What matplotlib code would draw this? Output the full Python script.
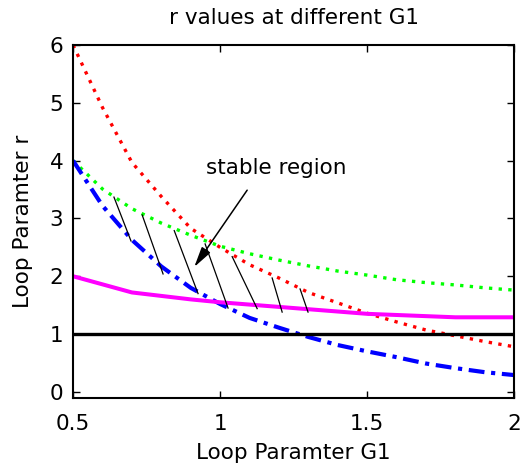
import matplotlib
matplotlib.use("Agg")
import matplotlib.pyplot as plt
import numpy as np

# loop parameter G1 and the r curves
G1 = [0.5, 0.6, 0.7, 0.8, 0.9, 1.0, 1.1, 1.2, 1.3, 1.4, 1.5, 1.6, 1.7, 1.8, 1.9, 2.0]
r_red = [6.0, 4.92, 3.97, 3.38, 2.83, 2.5, 2.2, 1.97, 1.72, 1.54, 1.36, 1.21, 1.07, 0.97, 0.87, 0.78]
r_green = [4.0, 3.51, 3.17, 2.92, 2.71, 2.52, 2.39, 2.28, 2.18, 2.09, 2.02, 1.94, 1.89, 1.85, 1.8, 1.76]
r_blue = [4.0, 3.22, 2.63, 2.17, 1.8, 1.52, 1.28, 1.11, 0.95, 0.81, 0.70, 0.60, 0.49, 0.41, 0.34, 0.29]
r_magenta = [2.0, 1.86, 1.72, 1.66, 1.6, 1.55, 1.51, 1.47, 1.43, 1.39, 1.35, 1.33, 1.31, 1.29, 1.29, 1.29]
r_limit = 1.0

# hatch strokes marking the stable region
hatch_x0 = [0.639, 0.735, 0.844, 0.949, 1.041, 1.177, 1.272]
hatch_y0 = [3.37, 3.06, 2.79, 2.56, 2.34, 1.97, 1.78]
hatch_x1 = [0.697, 0.806, 0.925, 1.027, 1.126, 1.211, 1.299]
hatch_y1 = [2.61, 2.04, 1.70, 1.45, 1.44, 1.38, 1.38]

plt.rcParams['font.family'] = 'DejaVu Sans'
plt.rcParams['font.size'] = 15.5

fig = plt.figure(figsize=(5.22, 4.7), dpi=100)
ax = fig.add_axes([0.140, 0.154, 0.845, 0.750])

ax.plot(G1, r_red, color='#ff0000', lw=2.4, linestyle=(0, (1, 1.9)))
ax.plot(G1, r_green, color='#00ff00', lw=2.4, linestyle=(0, (1, 1.9)))
ax.plot(G1, r_blue, color='#0000ff', lw=3.0, linestyle=(0, (3.8, 1.6, 1, 1.6)))
ax.plot(G1, r_magenta, color='#ff00ff', lw=2.9)
ax.plot([G1[0], G1[-1]], [r_limit, r_limit], color='black', lw=2.4)

for x0, y0, x1, y1 in zip(hatch_x0, hatch_y0, hatch_x1, hatch_y1):
    ax.plot([x0, x1], [y0, y1], color='black', lw=0.9)

ax.annotate('', xy=(0.912, 2.16), xytext=(1.092, 3.49),
            arrowprops=dict(arrowstyle='-|>,head_length=0.8,head_width=0.2',
                            color='black', lw=1.1, shrinkA=0, shrinkB=0))
ax.text(1.19, 3.88, 'stable region', ha='center', va='center')

ax.set_xlim(0.5, 2)
ax.set_ylim(-0.1, 6)
ax.set_xticks([0.5, 1, 1.5, 2])
ax.set_xticklabels(['0.5', '1', '1.5', '2'])
ax.set_yticks([0, 1, 2, 3, 4, 5, 6])
ax.tick_params(direction='in', top=True, right=True, length=5, width=1, pad=7)
ax.tick_params(axis='x', pad=12)
for s in ax.spines.values():
    s.set_linewidth(1.5)

ax.set_title('r values at different G1', pad=15, fontsize=15.5)
ax.set_xlabel('Loop Paramter G1', labelpad=6)
ax.set_ylabel('Loop Paramter r', labelpad=12)

fig.savefig('out.png', dpi=100)
